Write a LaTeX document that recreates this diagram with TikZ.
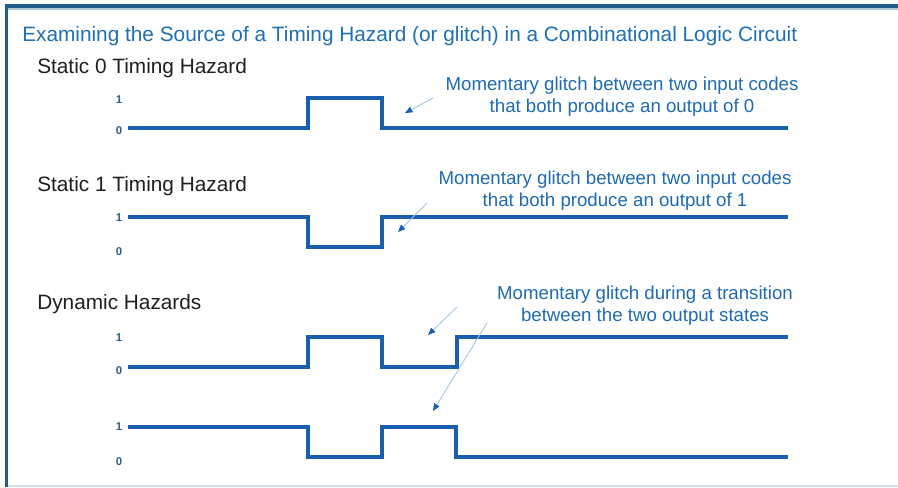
\documentclass[tikz,border=0pt]{standalone}
\usepackage{fontspec}
\setmainfont{Liberation Sans}
\usepackage{xcolor}
\usetikzlibrary{arrows.meta,positioning,calc}
\definecolor{framecol}{HTML}{1F5F8A}
\definecolor{headcol}{HTML}{2070B0}
\definecolor{wavecol}{HTML}{1A5EAE}
\definecolor{notecol}{HTML}{1E6BB0}
\definecolor{pointcol}{HTML}{9CC3DD}
\definecolor{lvlcol}{HTML}{2F5F86}

\begin{document}
\begin{tikzpicture}[x=0.75pt,y=-0.75pt,
  head/.style={anchor=west,inner sep=0pt,text=headcol,font=\fontsize{15.6}{18}\selectfont},
  section/.style={anchor=west,inner sep=0pt,text=black!88,font=\fontsize{15.6}{18}\selectfont},
  note/.style={align=center,inner sep=0pt,text=notecol,font=\fontsize{14}{16.5}\selectfont},
  lvl/.style={inner sep=0pt,text=lvlcol,font=\fontsize{8.5}{9}\selectfont\bfseries},
  wave/.style={draw=wavecol,line width=2.5pt,line join=miter},
  pointer/.style={draw=pointcol,line width=0.6pt,
    -{Triangle[color=wavecol,length=5.5pt,width=4.5pt]}}]
  \useasboundingbox (0,0) rectangle (898,487);
  % frame
  \draw[framecol!35,line width=2pt] (5,9) -- (898,9);
  \draw[framecol,line width=2.4pt] (5,6) -- (898,6);
  \draw[framecol,line width=2.4pt] (6.5,5) -- (6.5,487);
  \draw[framecol!20,line width=1.5pt] (8,485.5) -- (898,485.5);
  % texts
  \node[head] (title) at (22,36) {Examining the Source of a Timing Hazard (or glitch) in a Combinational Logic Circuit};
  \node[section] (sec0) at (37,68) {Static 0 Timing Hazard};
  \node[section] (sec1) at (37,186) {Static 1 Timing Hazard};
  \node[section] (secdyn) at (37,304) {Dynamic Hazards};
  \node[note] (note0) at (622,97) {Momentary glitch between two input codes\\that both produce an output of 0};
  \node[note] (note1) at (615,191) {Momentary glitch between two input codes\\that both produce an output of 1};
  \node[note] (notedyn) at (645,306) {Momentary glitch during a transition\\between the two output states};
  % level marks
  \foreach \y/\lab [count=\i] in {100/1,131/0,218/1,252/0,338/1,371/0,427/1,462/0}
    \node[lvl] (lvl\i) at (119,\y) {\lab};
  % waveforms
  \draw[wave] (128,128) -- (308,128) -- (308,98) -- (382,98) -- (382,128) -- (788,128);
  \draw[wave] (128,217) -- (308,217) -- (308,247) -- (382,247) -- (382,217) -- (788,217);
  \draw[wave] (128,367) -- (308,367) -- (308,337) -- (382,337) -- (382,367) -- (457,367) -- (457,337) -- (788,337);
  \draw[wave] (128,427) -- (308,427) -- (308,457) -- (382,457) -- (382,427) -- (456,427) -- (456,457) -- (788,457);
  % pointers to the glitches
  \coordinate (p0) at (433,98);  \coordinate (g0) at (405,113);
  \coordinate (p1) at (427,203); \coordinate (g1) at (398,232);
  \coordinate (p2) at (457,307); \coordinate (g2) at (428,335);
  \coordinate (p3) at (487,323); \coordinate (g3) at (433,411);
  \foreach \i in {0,...,3}
    \draw[pointer] (p\i) -- (g\i);
\end{tikzpicture}
\end{document}
